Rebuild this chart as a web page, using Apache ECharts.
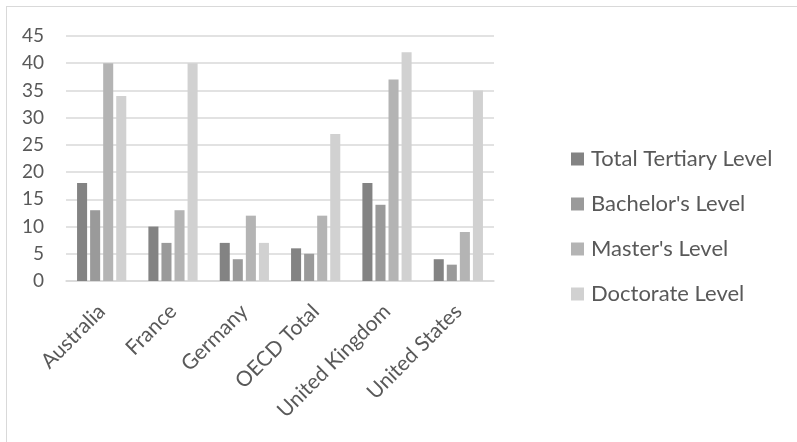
<!DOCTYPE html>
<html>
<head>
<meta charset="utf-8">
<script src="https://cdn.jsdelivr.net/npm/echarts@6/dist/echarts.min.js"></script>
<style>
html,body{margin:0;padding:0;background:#fff;}
#frame{position:absolute;left:6px;top:6px;width:800px;height:450px;border:1.5px solid #d9d9d9;box-sizing:border-box;}
#chart{position:absolute;left:0;top:0;width:797px;height:442px;}
</style>
</head>
<body>
<div id="frame"></div>
<div id="chart"></div>
<script>
const categories = ['Australia', 'France', 'Germany', 'OECD Total', 'United Kingdom', 'United States'];
const totalTertiary = [18, 10, 7, 6, 18, 4];
const bachelors = [13, 7, 4, 5, 14, 3];
const masters = [40, 13, 12, 12, 37, 9];
const doctorate = [34, 40, 7, 27, 42, 35];
const seriesNames = ['Total Tertiary Level', "Bachelor's Level", "Master's Level", 'Doctorate Level'];
const seriesColors = ['#838383', '#9a9a9a', '#b4b4b4', '#d1d1d1'];
const seriesData = [totalTertiary, bachelors, masters, doctorate];

const chart = echarts.init(document.getElementById('chart'));
const font = 'Lato, "Open Sans", sans-serif';
chart.setOption({
  animation: false,
  textStyle: {fontFamily: font},
  grid: {left: 66, right: 303, top: 36, bottom: 161, containLabel: false},
  legend: {
    orient: 'vertical',
    left: 566,
    top: 143,
    itemWidth: 13,
    itemHeight: 13,
    itemGap: 23,
    icon: 'rect',
    textStyle: {color: '#595959', fontSize: 22, fontFamily: font, padding: [0, 0, 0, 2]},
    data: seriesNames
  },
  xAxis: {
    type: 'category',
    data: categories,
    axisLine: {lineStyle: {color: '#d9d9d9', width: 1.5}},
    axisTick: {show: false},
    axisLabel: {rotate: 45, color: '#595959', fontSize: 21, margin: 27, interval: 0}
  },
  yAxis: {
    type: 'value',
    min: 0,
    max: 45,
    interval: 5,
    axisLine: {show: false},
    axisTick: {show: false},
    splitLine: {lineStyle: {color: '#d9d9d9', width: 1.5}},
    axisLabel: {color: '#595959', fontSize: 19, margin: 22}
  },
  series: seriesNames.map((name, i) => ({
    name: name,
    type: 'bar',
    data: seriesData[i],
    itemStyle: {color: seriesColors[i]},
    barGap: '30%',
    barCategoryGap: '31%'
  }))
});
</script>
</body>
</html>
